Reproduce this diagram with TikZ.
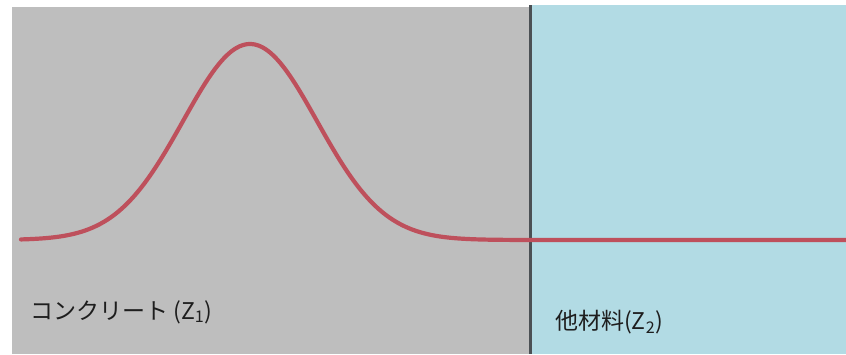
\documentclass[tikz,border=0pt]{standalone}
\usepackage{fontspec}
\newfontfamily\cjk{Noto Sans CJK JP}
\usepackage{tikz}
\definecolor{Concrete}{RGB}{190, 190, 190}
\definecolor{Other}{RGB}{178, 219, 228}
\definecolor{Wall}{RGB}{75, 80, 84}
\definecolor{Wave}{RGB}{190, 80, 92}
\definecolor{Ink}{RGB}{30, 30, 30}

\begin{document}
\begin{tikzpicture}[x=1pt, y=-1pt,
    zone/.style={draw=none},
    lbl/.style={anchor=west, inner sep=0pt, text=Ink, font=\cjk\fontsize{23}{27}\selectfont},
    wave/.style={Wave, line width=4.2pt, line cap=round},
]
\useasboundingbox (0,0) rectangle (846,354);
\fill[zone, Concrete] (12,7) rectangle (530,354);
\fill[zone, Other] (530,5) rectangle (846,354);
\draw[Wall, line width=3pt] (530,5) -- (530,354);

% pulse travelling in the concrete
\draw[wave] plot[domain=21:846, samples=220, smooth]
    (\x, {240 - 196*exp(-0.5*((\x-250)/67)^2)});

\node[lbl] (concrete) at (30,312) {コンクリート (Z\textsubscript{1})};
\node[lbl] (other) at (555,322) {他材料(Z\textsubscript{2})};
\end{tikzpicture}
\end{document}
